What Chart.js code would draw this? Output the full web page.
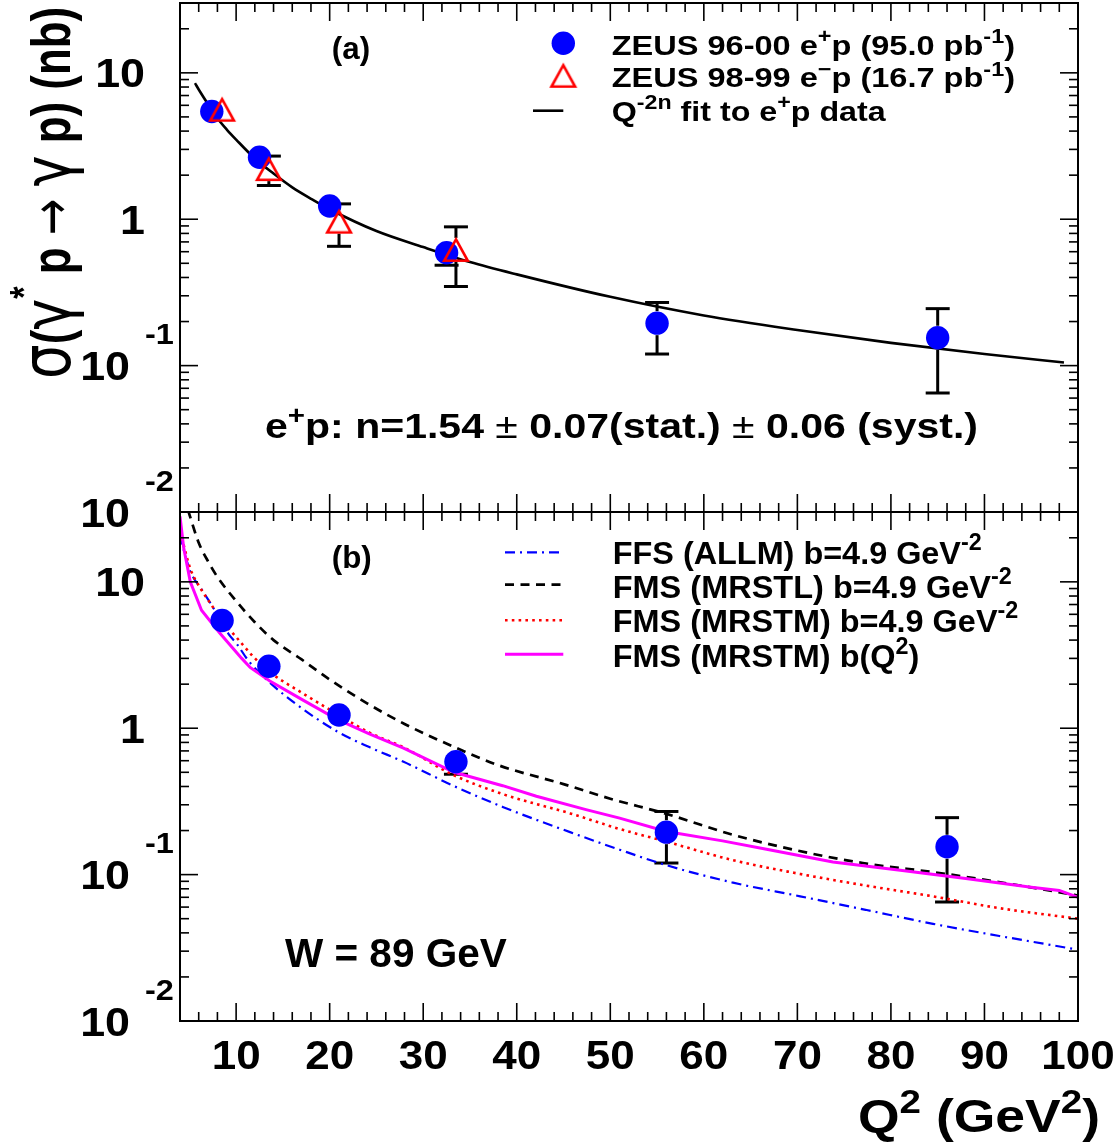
<!DOCTYPE html>
<html>
<head>
<meta charset="utf-8">
<script src="https://cdn.jsdelivr.net/npm/chart.js@4.4.1/dist/chart.umd.min.js"></script>
<style>
html,body{margin:0;padding:0;background:#ffffff;}
#wrap{position:relative;width:1116px;height:1147px;background:#ffffff;}
#wrap canvas{position:absolute;left:0;top:0;}
</style>
</head>
<body>
<div id="wrap">
<canvas id="panelB" width="1116" height="1147"></canvas>
<canvas id="panelA" width="1116" height="1147"></canvas>
</div>
<script>
// ---------------- data ----------------
// Q^2 bin centres (GeV^2)
const q2Bins = [8.5, 13.5, 21, 33.5, 56, 86];
// in panel (a) the e+p points are drawn slightly displaced to the left
const q2EpShifted = [7.4, 12.5, 20, 32.5, 55, 85];
// ZEUS 96-00 e+p cross sections (nb) and errors
const sigmaEp = [5.44, 2.65, 1.23, 0.59, 0.195, 0.155];
const sigmaEpErr = [0.35, 0.18, 0.08, 0.105, 0.075, 0.09];
// ZEUS 98-99 e-p
const q2Em = [8.5, 13.5, 21, 33.5];
const sigmaEm = [5.6, 2.2, 0.963, 0.617];
const sigmaEmErr = [0.4, 0.5, 0.31, 0.27];

// Q^-2n fit to e+p data (panel a)
const fitQ2 = [5.6, 6, 7, 8, 9, 10, 12, 14, 16, 18, 20, 25, 30, 35, 40, 50, 60, 70, 80, 90, 98.5];
const fitSigma = [8.5, 7.7, 6.1, 4.9, 4.1, 3.5, 2.6, 2.05, 1.65, 1.38, 1.17, 0.83, 0.645, 0.51, 0.42, 0.295, 0.22, 0.175, 0.143, 0.12, 0.105];

// model curves (panel b)
const ffsQ2 = [4.0, 4.4, 5.1, 6.4, 7.4, 8.3, 9.2, 10.1, 11.3, 13.6, 16.3, 20.8, 24.3, 27.9, 33.2, 38.5, 45.7, 51, 56, 63, 70.3, 77.4, 84.5, 91.6, 100];
const ffsAllm = [21, 16.5, 11.8, 8.7, 6.9, 5.5, 4.4, 3.75, 2.9, 2.05, 1.48, 0.95, 0.74, 0.59, 0.405, 0.29, 0.195, 0.148, 0.116, 0.0885, 0.0711, 0.0573, 0.0461, 0.0381, 0.0307];

const mrstlQ2 = [4.85, 6.0, 7.0, 8.0, 10.0, 12.0, 14.0, 17.0, 20.0, 24.0, 28.0, 33.0, 38.0, 45.0, 50.0, 56.0, 63.0, 70.0, 77.0, 85.0, 92.0, 100];
const fmsMrstl = [31, 18.5, 13.8, 10.8, 7.4, 5.3, 4.0, 2.95, 2.15, 1.48, 1.07, 0.76, 0.56, 0.415, 0.33, 0.26, 0.188, 0.146, 0.12, 0.103, 0.088, 0.072];

const mrstmQ2 = [4.0, 4.23, 5.1, 6.3, 7.4, 8.3, 10.0, 11.8, 13.6, 17.2, 20.8, 24.3, 27.9, 33.2, 38.5, 45.7, 51, 56, 63, 70.3, 77.4, 84.5, 91.6, 100];
const fmsMrstm = [22, 19.5, 12.3, 8.8, 6.9, 5.6, 4.2, 3.1, 2.42, 1.72, 1.25, 0.93, 0.74, 0.48, 0.355, 0.262, 0.205, 0.168, 0.126, 0.101, 0.084, 0.071, 0.059, 0.050];

const mrstmBQ2 = [4.0, 4.4, 5.1, 6.3, 8.2, 10.6, 11.5, 13.6, 17.2, 20.8, 24.3, 27.9, 33.3, 38.5, 42.1, 47.4, 51, 56, 62, 66.7, 73.8, 81, 88, 95, 98, 100];
const fmsMrstmBQ2 = [28, 17, 10, 6.4, 4.5, 3.0, 2.6, 2.1, 1.55, 1.15, 0.91, 0.73, 0.50, 0.405, 0.343, 0.278, 0.243, 0.197, 0.17, 0.149, 0.122, 0.107, 0.094, 0.082, 0.078, 0.070];

// axes
const xMin = 4, xMax = 100;
const yMin = 0.01, yMax = 30;
const xTickMajor = [10, 20, 30, 40, 50, 60, 70, 80, 90, 100];
const xTickLabels = ['10', '20', '30', '40', '50', '60', '70', '80', '90', '100'];
const yTickMajor = [10, 1, 0.1, 0.01];
const yTickBase = ['10', '1', '10', '10'];
const yTickExp = ['', '', '-1', '-2'];

// ---------------- helpers ----------------
const FAM = '"Liberation Sans", Arial, Helvetica, sans-serif';
const SYM = '"DejaVu Sans", "Liberation Sans", sans-serif';
const BLUE = '#0000ff', RED = '#ff0000', MAGENTA = '#ff00ff';

function fnt(size, bold, fam) { return (bold ? 'bold ' : '') + size.toFixed(2) + 'px ' + (fam || FAM); }
function partSize(p, size) { return (p.sup ? size * 0.72 : size) * (p.k || 1); }
function measureParts(ctx, parts, size) {
  let w = 0;
  for (const p of parts) {
    ctx.font = fnt(partSize(p, size), p.bold !== false, p.fam);
    w += ctx.measureText(p.t).width;
  }
  return w;
}
function drawText(ctx, parts, x, y, size, o) {
  o = o || {};
  const W = measureParts(ctx, parts, size);
  const sx = o.width ? o.width / W : (o.sx || 1);
  const tw = W * sx;
  let off = 0;
  if (o.align === 'right') off = -tw; else if (o.align === 'center') off = -tw / 2;
  ctx.save();
  ctx.translate(x, y);
  if (o.rotate) ctx.rotate(o.rotate);
  ctx.translate(off, 0);
  ctx.scale(sx, o.sy || 1);
  ctx.fillStyle = o.color || '#000';
  ctx.textAlign = 'left';
  ctx.textBaseline = 'alphabetic';
  let cx = 0;
  for (const p of parts) {
    ctx.font = fnt(partSize(p, size), p.bold !== false, p.fam);
    ctx.fillText(p.t, cx, p.sup ? -size * (p.raise || 0.42) : 0);
    cx += ctx.measureText(p.t).width;
  }
  ctx.restore();
}
function seg(ctx, x1, y1, x2, y2) { ctx.beginPath(); ctx.moveTo(x1, y1); ctx.lineTo(x2, y2); ctx.stroke(); }

function makeTriangle() {
  const c = document.createElement('canvas');
  c.width = 32; c.height = 32;
  const g = c.getContext('2d');
  g.strokeStyle = RED; g.lineWidth = 2.6; g.lineJoin = 'miter';
  g.beginPath();
  g.moveTo(16, 16 - 10.6);
  g.lineTo(16 + 11.8, 16 + 10.8);
  g.lineTo(16 - 11.8, 16 + 10.8);
  g.closePath();
  g.stroke();
  return c;
}
const triangleMarker = makeTriangle();

function pts(xs, ys) { return xs.map((x, i) => ({ x: x, y: ys[i] })); }

// ---------------- ROOT-like frame, ticks, error bars ----------------
function rootPanelPlugin(cfg) {
  return {
    id: 'rootPanel' + cfg.name,
    beforeDatasetsDraw(chart) {
      const { ctx, scales: { x, y } } = chart;
      ctx.save();
      ctx.strokeStyle = '#000';
      ctx.lineWidth = 3;
      chart.data.datasets.forEach((ds) => {
        if (!ds.errors) return;
        ds.data.forEach((p, i) => {
          const e = ds.errors[i];
          const px = x.getPixelForValue(p.x);
          const py = y.getPixelForValue(p.y);
          const up = y.getPixelForValue(p.y + e);
          const lo = y.getPixelForValue(p.y - e);
          const r = 12;
          if (py - up > r) { seg(ctx, px, py - r, px, up); seg(ctx, px - 12, up, px + 12, up); }
          if (lo - py > r) { seg(ctx, px, py + r, px, lo); seg(ctx, px - 12, lo, px + 12, lo); }
        });
      });
      ctx.restore();
    },
    afterDatasetsDraw(chart) {
      const { ctx, chartArea: a, scales: { x, y } } = chart;
      ctx.save();
      ctx.strokeStyle = '#000';
      ctx.lineWidth = 1.6;
      // x ticks (bottom and top, pointing inwards)
      for (let v = 6; v < xMax; v += 2) {
        const px = x.getPixelForValue(v);
        const L = (v % 10 === 0) ? 18 : 9;
        seg(ctx, px, a.bottom, px, a.bottom - L);
        seg(ctx, px, a.top, px, a.top + L);
      }
      // y ticks (left and right)
      for (let e = -2; e <= 1; e++) {
        for (let k = 1; k <= 9; k++) {
          const v = k * Math.pow(10, e);
          const py = y.getPixelForValue(v);
          if (py < a.top + 1 || py > a.bottom - 1) continue;
          const L = (k === 1) ? 18 : 9;
          seg(ctx, a.left, py, a.left + L, py);
          seg(ctx, a.right, py, a.right - L, py);
        }
      }
      ctx.lineWidth = 2;
      ctx.strokeRect(a.left, a.top, a.right - a.left, a.bottom - a.top);
      ctx.restore();

      // y tick labels
      yTickMajor.forEach((v, i) => {
        const py = y.getPixelForValue(v);
        if (yTickExp[i]) {
          drawText(ctx, [{ t: yTickBase[i] }], 130, py + 14.5, 40, { align: 'right', sx: 1.12 });
          drawText(ctx, [{ t: yTickExp[i] }], 145, py - 21.5, 29, { sx: 1.12 });
        } else {
          drawText(ctx, [{ t: yTickBase[i] }], 145, py + 14.5, 40, { align: 'right', sx: 1.12 });
        }
      });
      if (cfg.xLabels) {
        xTickMajor.forEach((v, i) => {
          const px = x.getPixelForValue(v);
          drawText(ctx, [{ t: xTickLabels[i] }], px, 1069, 40, { align: 'center', sx: 1.1 });
        });
      }
      cfg.decorate(ctx, chart);
    }
  };
}

function lineSample(ctx, x1, x2, y, color, width, dash) {
  ctx.save();
  ctx.strokeStyle = color; ctx.lineWidth = width; ctx.setLineDash(dash || []);
  seg(ctx, x1, y, x2, y);
  ctx.restore();
}

const commonOptions = (pad) => ({
  responsive: false,
  animation: false,
  events: [],
  layout: { padding: pad, autoPadding: false },
  scales: {
    x: { type: 'linear', min: xMin, max: xMax, display: false },
    y: { type: 'logarithmic', min: yMin, max: yMax, display: false }
  },
  plugins: { legend: { display: false }, tooltip: { enabled: false } }
});

// ---------------- panel (b) ----------------
new Chart(document.getElementById('panelB'), {
  type: 'scatter',
  data: {
    datasets: [
      { label: 'ZEUS 96-00 e+p', data: pts(q2Bins, sigmaEp), errors: sigmaEpErr, pointStyle: 'circle', pointRadius: 11.7, backgroundColor: BLUE, borderWidth: 0, showLine: false, order: 1 },
      { label: 'FFS (ALLM)', data: pts(ffsQ2, ffsAllm), showLine: true, pointRadius: 0, borderColor: BLUE, borderWidth: 2.2, borderDash: [10, 5, 2, 5], cubicInterpolationMode: 'monotone', order: 5 },
      { label: 'FMS (MRSTL)', data: pts(mrstlQ2, fmsMrstl), showLine: true, pointRadius: 0, borderColor: '#000', borderWidth: 2.7, borderDash: [9, 6.5], cubicInterpolationMode: 'monotone', order: 4 },
      { label: 'FMS (MRSTM) b=4.9', data: pts(mrstmQ2, fmsMrstm), showLine: true, pointRadius: 0, borderColor: RED, borderWidth: 2.6, borderDash: [2.6, 4.2], cubicInterpolationMode: 'monotone', order: 3 },
      { label: 'FMS (MRSTM) b(Q2)', data: pts(mrstmBQ2, fmsMrstmBQ2), showLine: true, pointRadius: 0, borderColor: MAGENTA, borderWidth: 3, tension: 0, order: 2 }
    ]
  },
  options: commonOptions({ left: 180, top: 512, right: 38, bottom: 126 }),
  plugins: [rootPanelPlugin({
    name: 'B', xLabels: true,
    decorate(ctx) {
      drawText(ctx, [{ t: '(b)' }], 351.7, 567.5, 31, { align: 'center', width: 40 });
      // legend
      lineSample(ctx, 505, 563.3, 552.3, BLUE, 2.2, [10, 5, 2, 5]);
      lineSample(ctx, 505, 563.3, 584.7, '#000', 2.7, [9, 6.5]);
      lineSample(ctx, 505, 563.3, 620.2, RED, 2.6, [2.6, 4.2]);
      lineSample(ctx, 505, 563.3, 654.3, MAGENTA, 3, []);
      drawText(ctx, [{ t: 'FFS (ALLM) b=4.9 GeV' }, { t: '-2', sup: true }], 612.7, 563.7, 32, { width: 369 });
      drawText(ctx, [{ t: 'FMS (MRSTL) b=4.9 GeV' }, { t: '-2', sup: true }], 612.7, 597.5, 32, { width: 399 });
      drawText(ctx, [{ t: 'FMS (MRSTM) b=4.9 GeV' }, { t: '-2', sup: true }], 612.7, 631.9, 32, { width: 405.6 });
      drawText(ctx, [{ t: 'FMS (MRSTM) b(Q' }, { t: '2', sup: true }, { t: ')' }], 612.7, 667, 32, { width: 306.6 });
      drawText(ctx, [{ t: 'W = 89 GeV' }], 285, 966.6, 40, { width: 221.7 });
      // x axis title
      drawText(ctx, [{ t: 'Q' }, { t: '2', sup: true }, { t: ' (GeV' }, { t: '2', sup: true }, { t: ')' }], 1100, 1132, 46, { align: 'right', width: 242 });
    }
  })]
});

// ---------------- panel (a) ----------------
new Chart(document.getElementById('panelA'), {
  type: 'scatter',
  data: {
    datasets: [
      { label: 'ZEUS 98-99 e-p', data: pts(q2Em, sigmaEm), errors: sigmaEmErr, pointStyle: triangleMarker, pointRadius: 13, showLine: false, order: 1 },
      { label: 'ZEUS 96-00 e+p', data: pts(q2EpShifted, sigmaEp), errors: sigmaEpErr, pointStyle: 'circle', pointRadius: 11.7, backgroundColor: BLUE, borderWidth: 0, showLine: false, order: 2 },
      { label: 'Q-2n fit', data: pts(fitQ2, fitSigma), showLine: true, pointRadius: 0, borderColor: '#000', borderWidth: 2.6, cubicInterpolationMode: 'monotone', order: 3 }
    ]
  },
  options: commonOptions({ left: 180, top: 3, right: 38, bottom: 635 }),
  plugins: [rootPanelPlugin({
    name: 'A', xLabels: false,
    decorate(ctx) {
      drawText(ctx, [{ t: '(a)' }], 351, 58.5, 31, { align: 'center', width: 38.3 });
      // legend
      ctx.save();
      ctx.fillStyle = BLUE;
      ctx.beginPath(); ctx.arc(563.3, 43.3, 11.7, 0, Math.PI * 2); ctx.fill();
      ctx.restore();
      ctx.drawImage(triangleMarker, 563.3 - 16, 75.8 - 16);
      lineSample(ctx, 533, 563.3, 110.7, '#000', 2.6, []);
      drawText(ctx, [{ t: 'ZEUS 96-00 e' }, { t: '+', sup: true }, { t: 'p (95.0 pb' }, { t: '-1', sup: true }, { t: ')' }], 611.7, 55, 28, { width: 403.3 });
      drawText(ctx, [{ t: 'ZEUS 98-99 e' }, { t: '\u2212', sup: true }, { t: 'p (16.7 pb' }, { t: '-1', sup: true }, { t: ')' }], 611.7, 87.3, 28, { width: 403.3 });
      drawText(ctx, [{ t: 'Q' }, { t: '-2n', sup: true }, { t: ' fit to e' }, { t: '+', sup: true }, { t: 'p data' }], 611.7, 120.7, 28, { width: 274 });
      // fit result
      drawText(ctx, [{ t: 'e' }, { t: '+', sup: true }, { t: 'p: n=1.54 ' }, { t: '\u00b1', bold: false }, { t: ' 0.07(stat.) ' }, { t: '\u00b1', bold: false }, { t: ' 0.06 (syst.)' }], 265, 438.3, 35, { width: 713 });
      // y axis title (rotated)
      drawText(ctx, [
        { t: '\u03c3', bold: false, fam: SYM, k: 1.25 }, { t: '(' }, { t: '\u03b3', bold: false, fam: SYM, k: 1.2 },
        { t: '*', sup: true, raise: 0.6 }, { t: ' p ' }, { t: '\u2192', bold: false, fam: SYM }, { t: ' ' },
        { t: '\u03b3', bold: false, fam: SYM, k: 1.2 }, { t: ' p) (nb)' }
      ], 70, 379, 50, { rotate: -Math.PI / 2, width: 372, sy: 1.1 });
    }
  })]
});
</script>
</body>
</html>
